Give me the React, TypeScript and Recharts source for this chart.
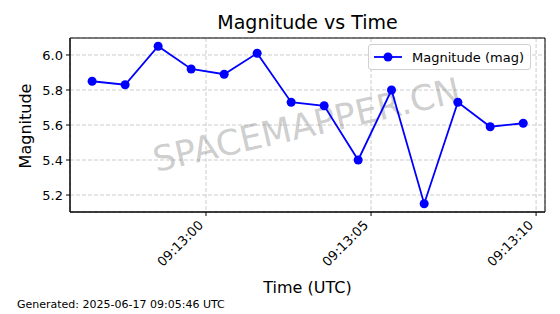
import React from 'react';
import { LineChart, Line, XAxis, YAxis, CartesianGrid, ReferenceArea, Customized } from 'recharts';

// seconds relative to 09:13:00 UTC
const times = [-3.45, -2.45, -1.45, -0.45, 0.55, 1.55, 2.58, 3.58, 4.61, 5.62, 6.61, 7.63, 8.61, 9.61];
const magnitudes = [5.85, 5.83, 6.05, 5.92, 5.89, 6.01, 5.73, 5.71, 5.4, 5.8, 5.15, 5.73, 5.59, 5.61];
const xTicks = [0, 5, 10];
const xTickLabels = ['09:13:00', '09:13:05', '09:13:10'];
const yTicks = [5.2, 5.4, 5.6, 5.8, 6.0];
const xDomain = [-4.12, 10.27];
const yDomain = [5.103, 6.097];

const data = times.map((t, i) => ({ t, mag: magnitudes[i] }));

const FONT = '"DejaVu Sans", sans-serif';

const XTick = (props: any) => {
  const { x, y, payload } = props;
  const idx = xTicks.indexOf(payload.value);
  const ax = x - 2;
  const ay = y + 8;
  return (
    <text x={ax} y={ay} transform={`rotate(-45, ${ax}, ${ay})`} textAnchor="end" fontSize={13} fontFamily={FONT} fill="#000">
      {idx >= 0 ? xTickLabels[idx] : ''}
    </text>
  );
};

const YTick = (props: any) => {
  const { x, y, payload } = props;
  return (
    <text x={x} y={y} dy="0.36em" textAnchor="end" fontSize={13} fontFamily={FONT} fill="#000">
      {Number(payload.value).toFixed(1)}
    </text>
  );
};

const Watermark = () => (
  <text
    x={307}
    y={127}
    textAnchor="middle"
    dominantBaseline="middle"
    transform="rotate(-13, 307, 127)"
    fontSize={35}
    fontFamily={FONT}
    fill="#808080"
    fillOpacity={0.4}
  >
    SPACEMAPPER.CN
  </text>
);

export default function App() {
  return (
    <div style={{ position: 'absolute', left: 0, top: 0, width: 560, height: 314, background: '#fff' }}>
      <LineChart width={560} height={314} data={data} margin={{ top: 38, right: 15, bottom: 42, left: 0 }}>
        <CartesianGrid stroke="#cccccc" strokeDasharray="4 2" />
        <XAxis
          dataKey="t"
          type="number"
          domain={xDomain}
          ticks={xTicks}
          allowDataOverflow
          height={60}
          tick={<XTick />}
          tickSize={4}
          tickLine={{ stroke: '#000' }}
          axisLine={{ stroke: '#000' }}
          interval={0}
        />
        <YAxis
          type="number"
          domain={yDomain}
          ticks={yTicks}
          allowDataOverflow
          width={70}
          tick={<YTick />}
          tickSize={4}
          tickMargin={3}
          tickLine={{ stroke: '#000' }}
          axisLine={{ stroke: '#000' }}
          interval={0}
        />
        <ReferenceArea x1={xDomain[0]} x2={xDomain[1]} y1={yDomain[0]} y2={yDomain[1]} fill="none" stroke="#000" strokeWidth={1} ifOverflow="extendDomain" />
        <Customized component={Watermark} />
        <Line
          type="linear"
          dataKey="mag"
          stroke="#0000ff"
          strokeWidth={1.8}
          dot={{ r: 4.5, fill: '#0000ff', stroke: '#0000ff', strokeWidth: 0 }}
          isAnimationActive={false}
        />
      </LineChart>
      <div
        style={{
          position: 'absolute',
          left: 368,
          top: 44,
          border: '1px solid #d0d0d0',
          borderRadius: 3,
          background: 'rgba(255,255,255,0.8)',
          display: 'flex',
          alignItems: 'center',
          height: 24,
          padding: '0 6px 0 4px',
          fontFamily: FONT,
          fontSize: 13,
          whiteSpace: 'nowrap',
        }}
      >
        <svg width={30} height={12} style={{ marginRight: 9 }}>
          <line x1={1} y1={6} x2={29} y2={6} stroke="#0000ff" strokeWidth={1.8} />
          <circle cx={15} cy={6} r={4.5} fill="#0000ff" />
        </svg>
        <span>Magnitude (mag)</span>
      </div>
      <div style={{ position: 'absolute', left: 0, top: 11, width: 615, textAlign: 'center', fontFamily: FONT, fontSize: 19 }}>
        Magnitude vs Time
      </div>
      <div style={{ position: 'absolute', left: 0, top: 278, width: 615, textAlign: 'center', fontFamily: FONT, fontSize: 16 }}>
        Time (UTC)
      </div>
      <div
        style={{
          position: 'absolute',
          left: 25,
          top: 126,
          transform: 'translate(-50%, -50%) rotate(-90deg)',
          fontFamily: FONT,
          fontSize: 16,
          whiteSpace: 'nowrap',
        }}
      >
        Magnitude
      </div>
      <div style={{ position: 'absolute', left: 17, top: 298, fontFamily: FONT, fontSize: 11, whiteSpace: 'nowrap' }}>
        Generated: 2025-06-17 09:05:46 UTC
      </div>
    </div>
  );
}
